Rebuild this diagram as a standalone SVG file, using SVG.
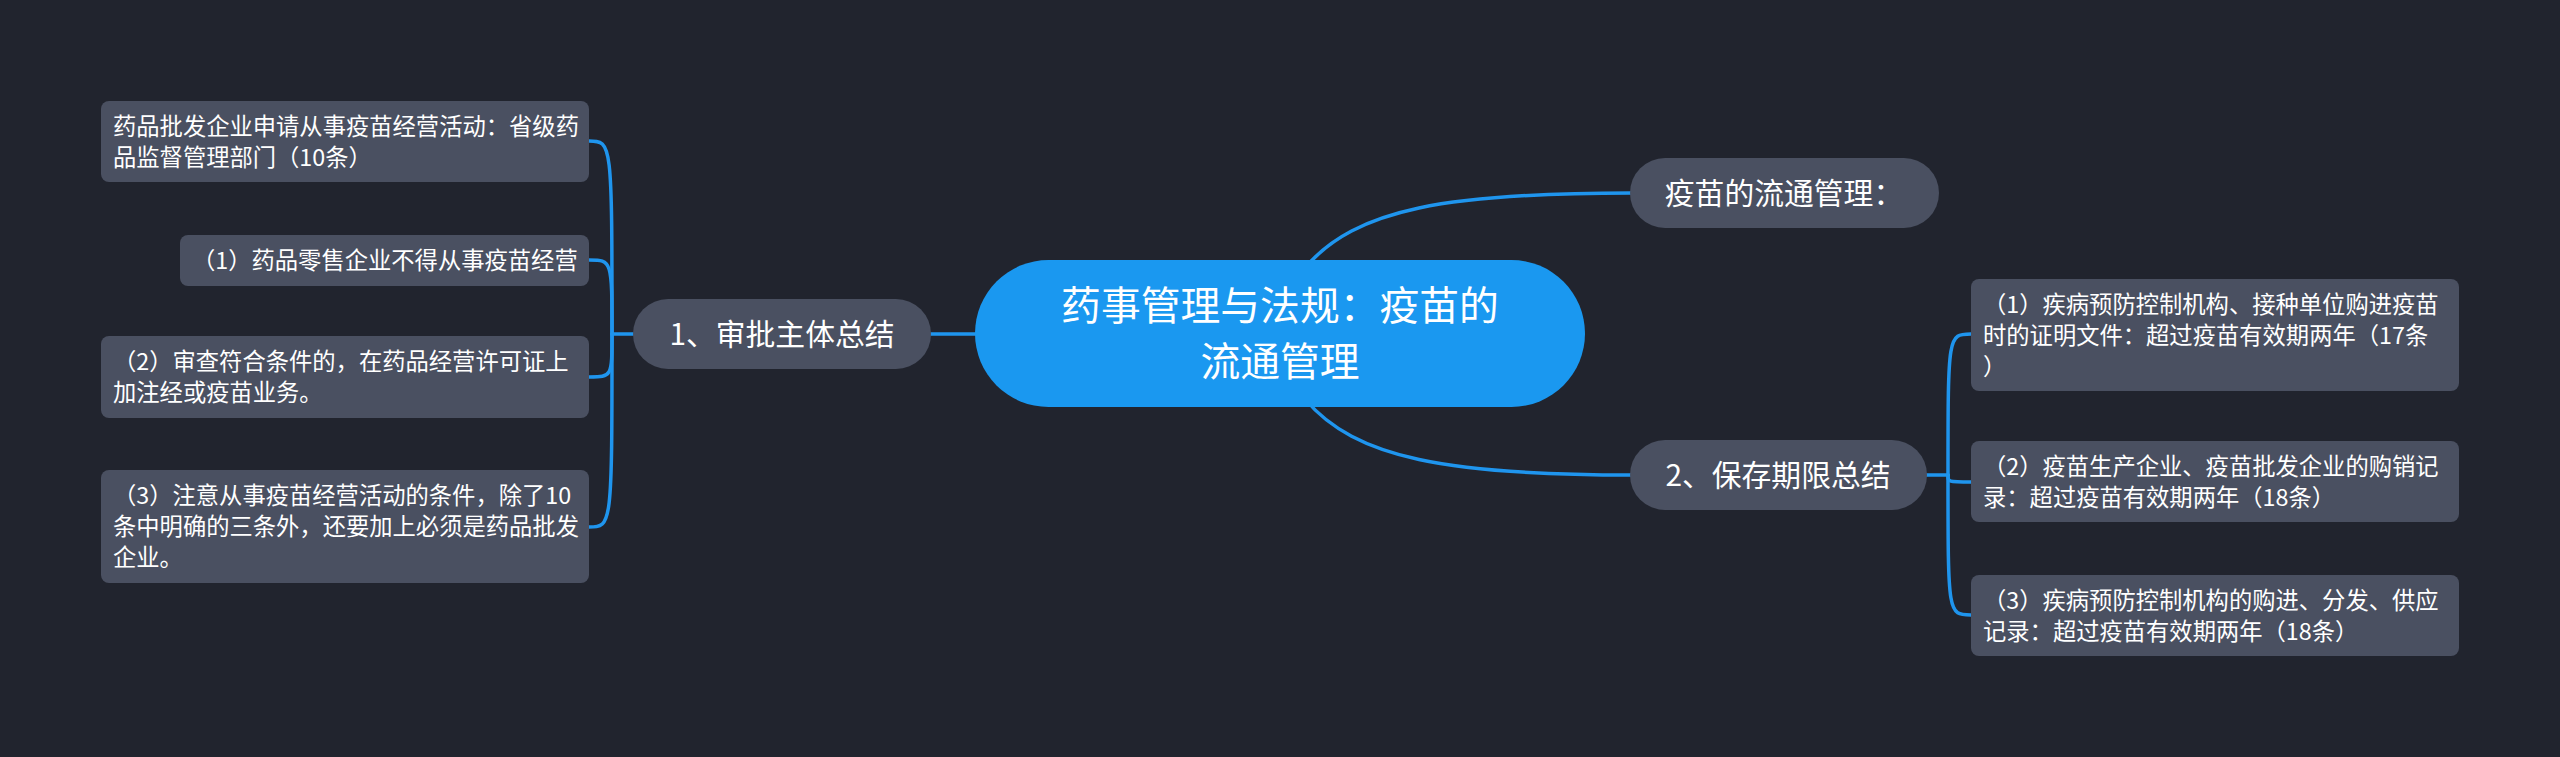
<svg xmlns="http://www.w3.org/2000/svg" width="2560" height="757" viewBox="0 0 2560 757">
<style>
.bg{fill:#21242e}
.leaf{fill:#4a5061}
.l1{fill:#4a5061}
.root{fill:#1a98f0}
.c{fill:none;stroke:#1f95ee;stroke-width:3.5;stroke-linecap:round}
text{font-family:"Noto Sans CJK SC","Noto Sans",sans-serif;fill:#ffffff}
.t{font-size:23.3px}
.t1{font-size:29.8px;text-anchor:middle}
.t0{font-size:39.8px;text-anchor:middle}
</style>
<rect class="bg" x="0" y="0" width="2560" height="757"/>
<g id="connectors">
<path class="c" d="M931 334 H978"/>
<path class="c" d="M633 334 H612"/>
<path class="c" d="M612 334 C612 141 612 141 589 141"/>
<path class="c" d="M612 334 C612 260 612 260 589 260"/>
<path class="c" d="M612 334 C612 377 612 377 589 377"/>
<path class="c" d="M612 334 C612 527 612 527 589 527"/>
<path class="c" d="M1305 268 C1355 208 1450 193 1632 193"/>
<path class="c" d="M1305 399 C1355 459 1450 475 1632 475"/>
<path class="c" d="M1925 475 H1948"/>
<path class="c" d="M1948 475 C1948 334 1948 334 1971 334"/>
<path class="c" d="M1948 475 C1948 482 1948 482 1971 482"/>
<path class="c" d="M1948 475 C1948 615 1948 615 1971 615"/>
</g>
<g id="root">
<rect class="root" x="975" y="260" width="610" height="147" rx="73.5"/>
<text class="t0" x="1280" y="320">药事管理与法规：疫苗的</text>
<text class="t0" x="1280" y="376">流通管理</text>
</g>
<g id="n-shenpi">
<rect class="l1" x="633" y="299" width="298" height="70" rx="35"/>
<text class="t1" x="782" y="345">1、审批主体总结</text>
</g>
<g id="n-liutong">
<rect class="l1" x="1630" y="158" width="309" height="70" rx="35"/>
<text class="t1" x="1784" y="204">疫苗的流通管理：</text>
</g>
<g id="n-baocun">
<rect class="l1" x="1630" y="440" width="297" height="70" rx="35"/>
<text class="t1" x="1778" y="486">2、保存期限总结</text>
</g>
<g id="leaf-l1">
<rect class="leaf" x="101" y="101" width="488" height="81" rx="8"/>
<text class="t" x="113" y="135">药品批发企业申请从事疫苗经营活动：省级药</text>
<text class="t" x="113" y="166">品监督管理部门（10条）</text>
</g>
<g id="leaf-l2">
<rect class="leaf" x="180" y="235" width="409" height="51" rx="8"/>
<text class="t" x="192" y="269">（1）药品零售企业不得从事疫苗经营</text>
</g>
<g id="leaf-l3">
<rect class="leaf" x="101" y="336" width="488" height="82" rx="8"/>
<text class="t" x="113" y="370">（2）审查符合条件的，在药品经营许可证上</text>
<text class="t" x="113" y="401">加注经或疫苗业务。</text>
</g>
<g id="leaf-l4">
<rect class="leaf" x="101" y="470" width="488" height="113" rx="8"/>
<text class="t" x="113" y="504">（3）注意从事疫苗经营活动的条件，除了10</text>
<text class="t" x="113" y="535">条中明确的三条外，还要加上必须是药品批发</text>
<text class="t" x="113" y="566">企业。</text>
</g>
<g id="leaf-r1">
<rect class="leaf" x="1971" y="279" width="488" height="112" rx="8"/>
<text class="t" x="1983" y="313">（1）疾病预防控制机构、接种单位购进疫苗</text>
<text class="t" x="1983" y="344">时的证明文件：超过疫苗有效期两年（17条</text>
<text class="t" x="1983" y="375">）</text>
</g>
<g id="leaf-r2">
<rect class="leaf" x="1971" y="441" width="488" height="81" rx="8"/>
<text class="t" x="1983" y="475">（2）疫苗生产企业、疫苗批发企业的购销记</text>
<text class="t" x="1983" y="506">录：超过疫苗有效期两年（18条）</text>
</g>
<g id="leaf-r3">
<rect class="leaf" x="1971" y="575" width="488" height="81" rx="8"/>
<text class="t" x="1983" y="609">（3）疾病预防控制机构的购进、分发、供应</text>
<text class="t" x="1983" y="640">记录：超过疫苗有效期两年（18条）</text>
</g>
</svg>
